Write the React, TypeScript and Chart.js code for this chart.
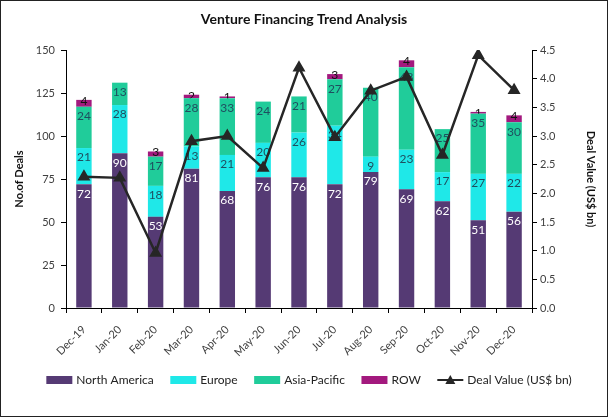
import React, { useEffect, useRef } from "react";
import { Chart, registerables } from "chart.js";

Chart.register(...registerables);

const categories = ["Dec-19", "Jan-20", "Feb-20", "Mar-20", "Apr-20", "May-20", "Jun-20", "Jul-20", "Aug-20", "Sep-20", "Oct-20", "Nov-20", "Dec-20"];
const northAmerica = [72, 90, 53, 81, 68, 76, 76, 72, 79, 69, 62, 51, 56];
const europe = [21, 28, 18, 13, 21, 20, 26, 34, 9, 23, 17, 27, 22];
const asiaPacific = [24, 13, 17, 28, 33, 24, 21, 27, 40, 48, 25, 35, 30];
const restOfWorld = [4, 0, 3, 2, 1, 0, 0, 3, 0, 4, 0, 1, 4];
const dealValue = [2.29, 2.27, 0.96, 2.91, 3.0, 2.44, 4.19, 2.98, 3.79, 4.03, 2.67, 4.41, 3.8];

const seriesNames = ["North America", "Europe", "Asia-Pacific", "ROW"];
const lineName = "Deal Value (US$ bn)";
const title = "Venture Financing Trend Analysis";
const leftTitle = "No.of Deals";
const rightTitle = "Deal Value (US$ bn)";

const COLORS = ["#553A74", "#1FE8E8", "#20CC9A", "#A3197E"];
const LABEL_COLORS = ["#FFFFFF", "#1F4E5F", "#1F4E5F", "#111111"];
const LINE_COLOR = "#262626";
const FONT = "Lato, 'Open Sans', sans-serif";
const TICK_COLOR = "#404040";

export default function App() {
  const ref = useRef<HTMLCanvasElement | null>(null);

  useEffect(() => {
    if (!ref.current) return;
    const W = 608;
    const H = 417;

    const framePlugin = {
      id: "frame",
      beforeDraw(chart: any) {
        const ctx = chart.ctx;
        ctx.save();
        ctx.fillStyle = "#ffffff";
        ctx.fillRect(0, 0, W, H);
        ctx.restore();
      },
      afterDraw(chart: any) {
        const ctx = chart.ctx;
        ctx.save();
        ctx.strokeStyle = "#222";
        ctx.lineWidth = 1;
        ctx.strokeRect(0.5, 0.5, W - 1, H - 1);
        // title
        ctx.fillStyle = "#111";
        ctx.font = `bold 14px ${FONT}`;
        ctx.textAlign = "center";
        ctx.textBaseline = "middle";
        ctx.fillText(title, 304, 19);
        // legend
        ctx.font = `12px ${FONT}`;
        const items = [...seriesNames, lineName];
        const boxW = 26;
        const gapText = 4;
        const gapItem = 16.5;
        const widths = items.map((t) => boxW + gapText + ctx.measureText(t).width);
        const total = widths.reduce((a, b) => a + b, 0) + gapItem * (items.length - 1);
        let x = 309 - total / 2;
        const cy = 380;
        items.forEach((t, i) => {
          if (i < seriesNames.length) {
            ctx.fillStyle = COLORS[i];
            ctx.fillRect(x, cy - 4, boxW, 8);
          } else {
            ctx.strokeStyle = LINE_COLOR;
            ctx.lineWidth = 2;
            ctx.beginPath();
            ctx.moveTo(x, cy);
            ctx.lineTo(x + boxW, cy);
            ctx.stroke();
            ctx.fillStyle = LINE_COLOR;
            ctx.beginPath();
            const mx = x + boxW / 2;
            ctx.moveTo(mx, cy - 5);
            ctx.lineTo(mx + 5, cy + 4);
            ctx.lineTo(mx - 5, cy + 4);
            ctx.closePath();
            ctx.fill();
          }
          ctx.fillStyle = "#222";
          ctx.textAlign = "left";
          ctx.textBaseline = "middle";
          ctx.fillText(t, x + boxW + gapText, cy);
          x += widths[i] + gapItem;
        });
        ctx.restore();
      },
    };

    const labelPlugin = {
      id: "segLabels",
      afterDatasetDraw(chart: any, args: any) {
        const i = args.index;
        if (i > 3) return;
        const meta = chart.getDatasetMeta(i);
        const data = chart.data.datasets[i].data as number[];
        const ctx = chart.ctx;
        ctx.save();
        ctx.font = `12px ${FONT}`;
        ctx.fillStyle = LABEL_COLORS[i];
        ctx.textAlign = "center";
        ctx.textBaseline = "middle";
        meta.data.forEach((el: any, j: number) => {
          const v = data[j];
          if (!v) return;
          const top = Math.min(el.y, el.base);
          const y = i === 3 ? top + 1 : top + 9.5;
          ctx.fillText(String(v), el.x, y);
        });
        ctx.restore();
      },
    };

    const tickFont = { family: FONT, size: 11 };
    const barDs = [northAmerica, europe, asiaPacific, restOfWorld].map((d, i) => ({
      type: "bar" as const,
      label: seriesNames[i],
      data: d,
      backgroundColor: COLORS[i],
      stack: "deals",
      yAxisID: "y",
      order: 1,
      categoryPercentage: 1,
      barPercentage: 0.43,
    }));

    const chart = new Chart(ref.current, {
      type: "bar",
      data: {
        labels: categories,
        datasets: [
          ...barDs,
          {
            type: "line" as const,
            label: lineName,
            data: dealValue,
            yAxisID: "y1",
            borderColor: LINE_COLOR,
            backgroundColor: LINE_COLOR,
            borderWidth: 2.5,
            pointStyle: "triangle",
            pointRadius: 5,
            pointBackgroundColor: LINE_COLOR,
            pointBorderColor: LINE_COLOR,
            tension: 0,
            order: 0,
          } as any,
        ],
      },
      options: {
        responsive: false,
        animation: false,
        devicePixelRatio: 1,
        layout: { padding: { top: 50, left: 0, right: 0, bottom: 0 }, autoPadding: false },
        plugins: {
          legend: { display: false },
          title: { display: false },
          tooltip: { enabled: false },
        },
        scales: {
          x: {
            stacked: true,
            grid: { display: true, drawOnChartArea: false, offset: true, tickLength: 5, color: "#000" },
            border: { display: true, color: "#000" },
            ticks: { minRotation: 45, maxRotation: 45, font: tickFont, color: TICK_COLOR, padding: 10 },
            afterFit: (s: any) => {
              s.height = 109;
            },
          },
          y: {
            stacked: true,
            position: "left",
            min: 0,
            max: 150,
            ticks: { stepSize: 25, font: tickFont, color: TICK_COLOR, padding: 6 },
            grid: { display: true, drawOnChartArea: false, tickLength: 5, color: "#000" },
            border: { display: true, color: "#000" },
            title: { display: true, text: leftTitle, font: { family: FONT, size: 11, weight: "bold" }, color: "#111", padding: { top: 13, bottom: 0 } },
            afterFit: (s: any) => {
              s.width = 66;
            },
          },
          y1: {
            position: "right",
            min: 0,
            max: 4.5,
            ticks: {
              stepSize: 0.5,
              font: tickFont,
              color: TICK_COLOR,
              padding: 3,
              callback: (v: any) => Number(v).toFixed(1),
            },
            grid: { display: true, drawOnChartArea: false, tickLength: 5, color: "#000" },
            border: { display: true, color: "#000" },
            title: { display: true, text: rightTitle, font: { family: FONT, size: 11, weight: "bold" }, color: "#111", padding: { top: 11, bottom: 0 } },
            afterFit: (s: any) => {
              s.width = 76;
            },
          },
        },
      } as any,
      plugins: [framePlugin, labelPlugin],
    });

    return () => chart.destroy();
  }, []);

  return (
    <div style={{ position: "fixed", left: 0, top: 0, width: 608, height: 417, background: "#fff" }}>
      <canvas ref={ref} width={608} height={417} style={{ display: "block", width: 608, height: 417 }} />
    </div>
  );
}
